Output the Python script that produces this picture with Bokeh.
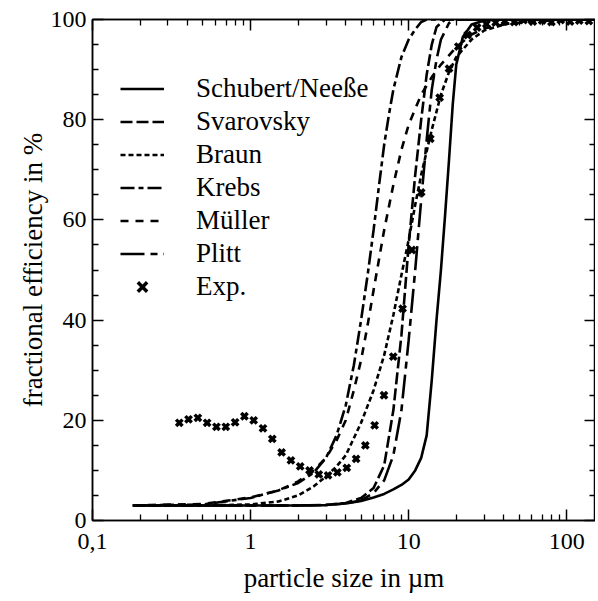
from bokeh.plotting import figure
from bokeh.models import (FixedTicker, LogAxis, LinearAxis, Legend, LegendItem, Range1d,
                          CustomJSTickFormatter)
from bokeh.embed import file_html
from bokeh.resources import INLINE

# ---------------- data ----------------
x_schubert = [0.18, 1, 2, 3, 4, 5, 6, 7, 8, 9, 10, 11, 12, 13, 14, 15, 16, 17, 18, 19, 20, 22, 25, 30, 40, 150]
y_schubert = [3, 3, 3, 3.1, 3.4, 3.9, 4.6, 5.3, 6.2, 7.1, 8.2, 10, 12.5, 17, 28, 40, 50, 61, 72, 83, 91, 96.5, 99, 99.8, 100, 100]

x_svarovsky = [0.18, 1, 2, 3, 4, 5, 6, 7, 8, 9, 10, 11, 12, 13, 14, 15, 17, 150]
y_svarovsky = [3, 3, 3, 3.1, 3.5, 4.5, 6.5, 11, 22, 37, 55, 69, 80, 89, 95, 98.5, 100, 100]

x_braun = [0.18, 0.5, 1, 1.5, 2, 2.5, 3, 3.5, 4, 5, 6, 7, 8, 9, 10, 11, 12, 14, 16, 18, 20, 25, 30, 40, 50, 70, 150]
y_braun = [3, 3, 3.2, 3.8, 5, 6.8, 8.8, 10.8, 13, 19.5, 26, 33, 41, 49, 56, 63, 69, 78, 85, 89.5, 92.5, 96, 97.8, 99, 99.6, 100, 100]

x_krebs = [0.18, 0.5, 1, 1.5, 2, 2.5, 3, 3.5, 4, 4.5, 5, 5.5, 6, 6.5, 7, 7.5, 8, 9, 10, 11, 12, 13, 150]
y_krebs = [3, 3.2, 4.5, 6, 7.5, 9.5, 12.5, 17, 23, 31, 40, 49, 58, 67, 75, 81, 86, 92.5, 96, 98, 99.5, 100, 100]

x_mueller = [0.18, 0.5, 1, 1.5, 2, 2.5, 3, 3.5, 4, 4.5, 5, 5.5, 6, 7, 8, 9, 10, 12, 14, 16, 20, 25, 30, 40, 60, 100, 150]
y_mueller = [3, 3.3, 4.6, 6, 7.8, 10, 12.5, 16, 20, 26, 32, 39, 46, 58, 67, 74, 79, 85, 88.5, 91, 94.5, 97, 98.2, 99, 99.6, 100, 100]

x_plitt = [0.18, 1, 2, 3, 4, 5, 6, 7, 8, 9, 10, 11, 12, 13, 14, 15, 16, 18, 20, 150]
y_plitt = [3, 3, 3, 3.1, 3.4, 4, 5.5, 8, 13, 22, 36, 50, 64, 76, 86, 92, 96, 99.3, 100, 100]

x_exp = [0.354, 0.405, 0.464, 0.531, 0.608, 0.697, 0.798, 0.914, 1.046, 1.198, 1.372, 1.571,
         1.799, 2.06, 2.36, 2.70, 3.09, 3.54, 4.06, 4.65, 5.32, 6.09, 6.98, 7.99, 9.15, 10.48,
         12.0, 13.7, 15.7, 18.0, 20.6, 23.6, 27.1, 31.0, 35.5, 40.6, 46.5, 53.3, 61.0, 69.9,
         80.0, 91.6, 105, 120, 138]
y_exp = [19.5, 20.2, 20.5, 19.5, 18.7, 18.7, 19.6, 20.8, 20.0, 18.4, 16.3, 13.6,
         12.0, 10.8, 10.0, 9.2, 9.0, 9.6, 10.5, 12.3, 15.0, 19.0, 25.0, 32.7, 42.3, 54.0,
         65.5, 76.2, 84.4, 90.2, 94.6, 96.9, 98.4, 99.1, 99.4, 99.7, 99.5, 99.9, 99.6, 99.8,
         99.5, 99.9, 99.6, 99.8, 99.7]

x_major = [0.1, 1, 10, 100]
x_minor = [0.2, 0.3, 0.4, 0.5, 0.6, 0.7, 0.8, 0.9, 2, 3, 4, 5, 6, 7, 8, 9,
           20, 30, 40, 50, 60, 70, 80, 90]
x_labels = {0.1: "0,1", 1: "1", 10: "10", 100: "100"}
y_major = [0, 20, 40, 60, 80, 100]
y_minor = [5, 10, 15, 25, 30, 35, 45, 50, 55, 65, 70, 75, 85, 90, 95]

FONT = "Liberation Serif"

p = figure(x_axis_type="log", frame_width=503, frame_height=501,
           x_range=Range1d(0.1, 152), y_range=Range1d(0, 100),
           output_backend="svg", toolbar_location=None,
           min_border_left=92, min_border_top=19, min_border_bottom=78, min_border_right=0)
p.grid.visible = False
p.outline_line_color = "black"
p.outline_line_width = 1.5
p.background_fill_color = "white"
p.border_fill_color = "white"

def style_axis(ax, labels=True):
    ax.axis_line_color = "black"
    ax.axis_line_width = 1.5
    ax.major_tick_in = 11
    ax.major_tick_out = 0
    ax.minor_tick_in = 6
    ax.minor_tick_out = 0
    ax.major_tick_line_width = 1.5
    ax.minor_tick_line_width = 1.3
    ax.major_tick_line_color = "black"
    ax.minor_tick_line_color = "black"
    ax.major_label_text_font = FONT
    ax.major_label_text_color = "black"
    ax.major_label_text_font_size = "24px"
    ax.axis_label_text_color = "black"
    if not labels:
        ax.formatter = CustomJSTickFormatter(code="return '';")
        ax.major_label_standoff = 0

xb = p.xaxis[0]
xb.ticker = FixedTicker(ticks=x_major, minor_ticks=x_minor)
xb.major_label_overrides = x_labels
style_axis(xb)
xb.major_label_standoff = 13
xb.axis_label = "particle size in µm"
xb.axis_label_text_font = FONT
xb.axis_label_text_font_size = "27px"
xb.axis_label_text_font_style = "normal"
xb.axis_label_standoff = 11

yl = p.yaxis[0]
yl.ticker = FixedTicker(ticks=y_major, minor_ticks=y_minor)
style_axis(yl)
yl.major_label_standoff = 6
yl.axis_label = "fractional efficiency in %"
yl.axis_label_text_font = FONT
yl.axis_label_text_font_size = "27px"
yl.axis_label_text_font_style = "normal"
yl.axis_label_standoff = 0

xt = LogAxis(ticker=FixedTicker(ticks=x_major, minor_ticks=x_minor))
style_axis(xt, labels=False)
p.add_layout(xt, "above")
yr = LinearAxis(ticker=FixedTicker(ticks=y_major, minor_ticks=y_minor))
style_axis(yr, labels=False)
p.add_layout(yr, "right")

LW = 2.6
r1 = p.line(x_schubert, y_schubert, line_color="black", line_width=LW)
r2 = p.line(x_svarovsky, y_svarovsky, line_color="black", line_width=LW, line_dash="12 4")
r3 = p.line(x_braun, y_braun, line_color="black", line_width=LW, line_dash="5 3")
r4 = p.line(x_krebs, y_krebs, line_color="black", line_width=LW, line_dash="14 4 5 4")
r5 = p.line(x_mueller, y_mueller, line_color="black", line_width=LW, line_dash="8 7")
r6 = p.line(x_plitt, y_plitt, line_color="black", line_width=LW, line_dash="24 6 7 6")
r7 = p.scatter(x_exp, y_exp, marker="x", size=9, line_color="black", line_width=3.5)

legend = Legend(items=[
    LegendItem(label="Schubert/Neeße", renderers=[r1]),
    LegendItem(label="Svarovsky", renderers=[r2]),
    LegendItem(label="Braun", renderers=[r3]),
    LegendItem(label="Krebs", renderers=[r4]),
    LegendItem(label="Müller", renderers=[r5]),
    LegendItem(label="Plitt", renderers=[r6]),
    LegendItem(label="Exp.", renderers=[r7]),
], location=(28, 217))
legend.background_fill_alpha = 0
legend.border_line_color = None
legend.padding = 0
legend.margin = 0
legend.spacing = 0
legend.glyph_width = 44
legend.glyph_height = 33
legend.label_height = 33
legend.label_standoff = 32
legend.label_text_font = FONT
legend.label_text_font_size = "27px"
legend.label_text_color = "black"
p.add_layout(legend, "center")

open("out.html", "w").write(file_html(p, INLINE))
